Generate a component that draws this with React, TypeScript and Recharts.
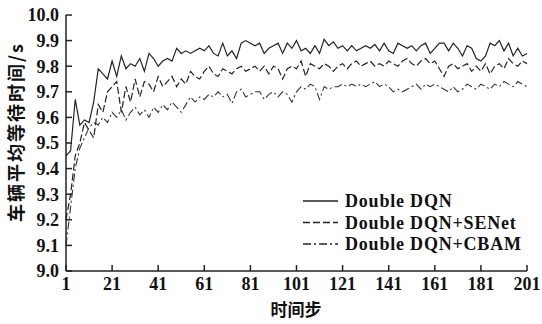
import React from 'react';
import { LineChart, Line, XAxis, YAxis, Legend } from 'recharts';

const steps = [
  1, 3, 5, 7, 9, 11, 13, 15, 17, 19, 21, 23, 25, 27, 29, 31, 33, 35, 37, 39,
  41, 43, 45, 47, 49, 51, 53, 55, 57, 59, 61, 63, 65, 67, 69, 71, 73, 75, 77, 79,
  81, 83, 85, 87, 89, 91, 93, 95, 97, 99, 101, 103, 105, 107, 109, 111, 113, 115, 117, 119,
  121, 123, 125, 127, 129, 131, 133, 135, 137, 139, 141, 143, 145, 147, 149, 151, 153, 155, 157, 159,
  161, 163, 165, 167, 169, 171, 173, 175, 177, 179, 181, 183, 185, 187, 189, 191, 193, 195, 197, 199, 201,
];

const doubleDqn = [
  9.45, 9.47, 9.67, 9.57, 9.59, 9.58, 9.66, 9.79, 9.77, 9.75,
  9.82, 9.76, 9.84, 9.79, 9.81, 9.80, 9.83, 9.78, 9.85, 9.83,
  9.80, 9.82, 9.83, 9.82, 9.87, 9.85, 9.86, 9.85, 9.86, 9.87,
  9.86, 9.88, 9.85, 9.84, 9.89, 9.84, 9.86, 9.83, 9.89, 9.90,
  9.89, 9.88, 9.89, 9.85, 9.87, 9.88, 9.89, 9.85, 9.89, 9.87,
  9.90, 9.86, 9.87, 9.85, 9.88, 9.85, 9.905, 9.88, 9.895, 9.87,
  9.88, 9.86, 9.88, 9.86, 9.87, 9.88, 9.87, 9.885, 9.86, 9.89,
  9.86, 9.85, 9.89, 9.88, 9.87, 9.88, 9.86, 9.88, 9.89, 9.85,
  9.87, 9.89, 9.89, 9.86, 9.89, 9.87, 9.84, 9.88, 9.87, 9.83,
  9.82, 9.84, 9.89, 9.88, 9.90, 9.86, 9.89, 9.84, 9.87, 9.84, 9.85,
];

const senet = [
  9.20, 9.30, 9.45, 9.50, 9.58, 9.55, 9.52, 9.65, 9.62, 9.70,
  9.72, 9.74, 9.62, 9.72, 9.66, 9.75, 9.68, 9.74, 9.73, 9.70,
  9.76, 9.72, 9.74, 9.76, 9.72, 9.75, 9.73, 9.78, 9.76, 9.75,
  9.78, 9.80, 9.77, 9.76, 9.79, 9.78, 9.77, 9.79, 9.80, 9.78,
  9.79, 9.80, 9.78, 9.80, 9.77, 9.80, 9.79, 9.75, 9.79, 9.80,
  9.79, 9.82, 9.76, 9.81, 9.80, 9.79, 9.81, 9.80, 9.78, 9.80,
  9.81, 9.79, 9.81, 9.82, 9.80, 9.81, 9.82, 9.80, 9.81, 9.80,
  9.82, 9.81, 9.80, 9.82, 9.83, 9.81, 9.80, 9.82, 9.83, 9.81,
  9.82, 9.79, 9.76, 9.80, 9.81, 9.79, 9.80, 9.81, 9.78, 9.80,
  9.78, 9.81, 9.77, 9.80, 9.81, 9.79, 9.83, 9.81, 9.80, 9.82, 9.81,
];

const cbam = [
  9.10, 9.25, 9.40, 9.48, 9.52, 9.56, 9.58, 9.57, 9.60, 9.58,
  9.62, 9.60, 9.63, 9.59, 9.62, 9.64, 9.61, 9.63, 9.60, 9.64,
  9.62, 9.65, 9.63, 9.66, 9.64, 9.62, 9.65, 9.68, 9.66, 9.68,
  9.67, 9.69, 9.68, 9.70, 9.68, 9.69, 9.655, 9.70, 9.71, 9.68,
  9.69, 9.70, 9.70, 9.67, 9.69, 9.70, 9.68, 9.70, 9.69, 9.66,
  9.70, 9.72, 9.71, 9.73, 9.72, 9.67, 9.72, 9.71, 9.72, 9.72,
  9.73, 9.72, 9.73, 9.72, 9.73, 9.72, 9.73, 9.74, 9.72, 9.73,
  9.72, 9.70, 9.71, 9.70, 9.71, 9.72, 9.73, 9.71, 9.73, 9.72,
  9.73, 9.72, 9.71, 9.70, 9.72, 9.70, 9.71, 9.73, 9.72, 9.71,
  9.73, 9.72, 9.71, 9.73, 9.72, 9.74, 9.73, 9.72, 9.74, 9.73, 9.72,
];

const xTicks = [1, 21, 41, 61, 81, 101, 121, 141, 161, 181, 201];
const yTicks = [9.0, 9.1, 9.2, 9.3, 9.4, 9.5, 9.6, 9.7, 9.8, 9.9, 10.0];

const seriesNames = ['Double DQN', 'Double DQN+SENet', 'Double DQN+CBAM'];
const xLabel = '时间步';
const yLabel = '车辆平均等待时间/s';

const data = steps.map((s, i) => ({
  step: s,
  a: doubleDqn[i],
  b: senet[i],
  c: cbam[i],
}));

const INK = '#222';
const SERIF = '"Liberation Serif", "Times New Roman", serif';
const CJK = '"Noto Sans CJK SC", sans-serif';
const dashes = [undefined, '7 3', '8 3 2 3'];

const XTick = (props: any) => {
  const { x, y, payload } = props;
  const axisY = y - 6;
  return (
    <g>
      <line x1={x} y1={axisY} x2={x} y2={axisY - 6} stroke={INK} strokeWidth={1.5} />
      <text x={x} y={axisY + 19} textAnchor="middle" fontFamily={SERIF} fontWeight="bold" fontSize={18} fill="#111">
        {payload.value}
      </text>
    </g>
  );
};

const YTick = (props: any) => {
  const { x, y, payload } = props;
  const axisX = x + 6;
  return (
    <g>
      <line x1={axisX} y1={y} x2={axisX + 6} y2={y} stroke={INK} strokeWidth={1.5} />
      <text x={x - 1} y={y} dy="0.35em" textAnchor="end" fontFamily={SERIF} fontWeight="bold" fontSize={18} fill="#111">
        {Number(payload.value).toFixed(1)}
      </text>
    </g>
  );
};

const LegendContent = () => (
  <svg width={240} height={70}>
    {seriesNames.map((name, i) => (
      <g key={name}>
        <line x1={3} x2={38} y1={12 + i * 21.5} y2={12 + i * 21.5} stroke={INK} strokeWidth={1.4} strokeDasharray={dashes[i]} />
        <text x={45} y={12 + i * 21.5} dy="0.35em" fontFamily={SERIF} fontWeight="bold" fontSize={18} fill="#111" letterSpacing={0.8}>
          {name}
        </text>
      </g>
    ))}
  </svg>
);

const YLabel = () => (
  <text
    x={17}
    y={132}
    transform="rotate(-90 17 132)"
    textAnchor="middle"
    dy="0.35em"
    fontFamily={CJK}
    fontWeight="bold"
    fontSize={18}
    letterSpacing={2}
    fill="#111"
  >
    {yLabel}
  </text>
);

const XLabel = () => (
  <text
    x={296}
    y={310}
    textAnchor="middle"
    dy="0.35em"
    fontFamily={CJK}
    fontWeight="bold"
    fontSize={17}
    fill="#111"
  >
    {xLabel}
  </text>
);

export default function App() {
  return (
    <div style={{ position: 'absolute', left: 0, top: 0, width: 542, height: 324, background: '#fff' }}>
      <LineChart width={542} height={324} data={data} margin={{ top: 15, right: 15, left: 0, bottom: 23 }}>
        <XAxis
          dataKey="step"
          type="number"
          domain={[1, 201]}
          ticks={xTicks}
          interval={0}
          tickLine={false}
          tickSize={0}
          tickMargin={6}
          tick={<XTick />}
          axisLine={{ stroke: INK, strokeWidth: 1.5 }}
          height={30}
          label={<XLabel />}
        />
        <YAxis
          type="number"
          domain={[9.0, 10.0]}
          ticks={yTicks}
          interval={0}
          tickLine={false}
          tickSize={0}
          tickMargin={6}
          tick={<YTick />}
          axisLine={{ stroke: INK, strokeWidth: 1.5 }}
          width={66}
          label={<YLabel />}
        />
        <Legend
          layout="vertical"
          align="center"
          verticalAlign="middle"
          content={<LegendContent />}
          wrapperStyle={{ position: 'absolute', left: 300, top: 189, width: 240, height: 70 }}
        />
        <Line dataKey="a" name={seriesNames[0]} type="linear" stroke={INK} strokeWidth={1.2} dot={false} isAnimationActive={false} />
        <Line dataKey="b" name={seriesNames[1]} type="linear" stroke={INK} strokeWidth={1.2} strokeDasharray={dashes[1]} dot={false} isAnimationActive={false} />
        <Line dataKey="c" name={seriesNames[2]} type="linear" stroke="#333" strokeWidth={1.1} strokeDasharray={dashes[2]} dot={false} isAnimationActive={false} />
      </LineChart>
    </div>
  );
}
